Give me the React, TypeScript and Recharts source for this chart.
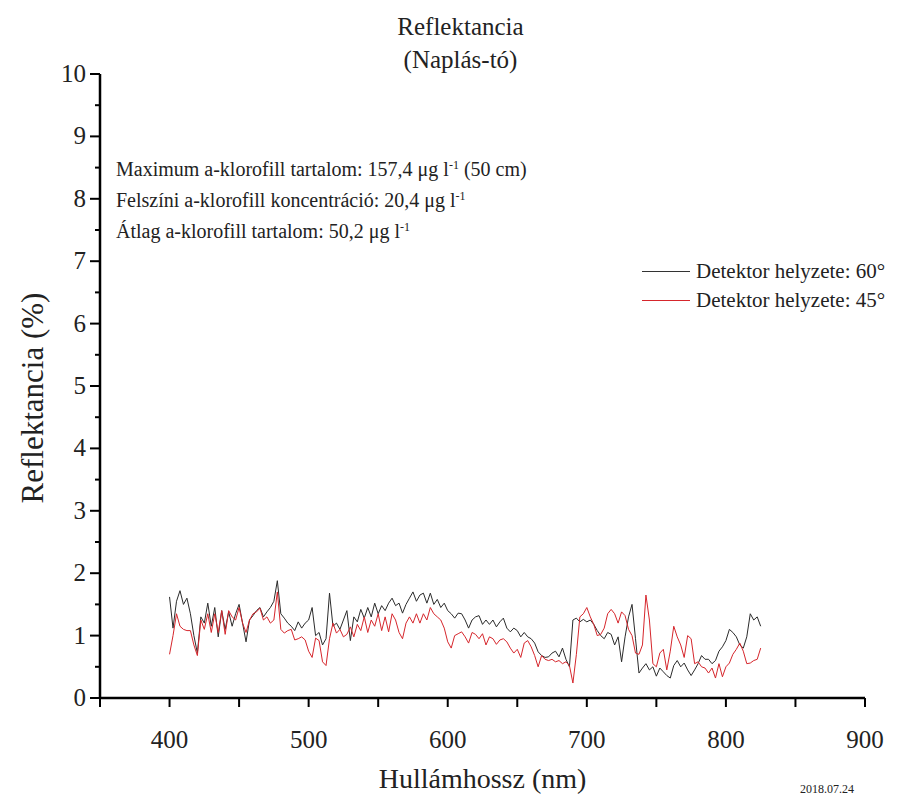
import React from 'react';
import { LineChart, Line, XAxis, YAxis, Label } from 'recharts';

// wavelength grid (nm)
const wavelength = [
  400, 402.5, 405, 407.5, 410, 412.5, 415, 417.5, 420, 422.5,
  425, 427.5, 430, 432.5, 435, 437.5, 440, 442.5, 445, 447.5,
  450, 452.5, 455, 457.5, 460, 462.5, 465, 467.5, 470, 472.5,
  475, 477.5, 480, 482.5, 485, 487.5, 490, 492.5, 495, 497.5,
  500, 502.5, 505, 507.5, 510, 512.5, 515, 517.5, 520, 522.5,
  525, 527.5, 530, 532.5, 535, 537.5, 540, 542.5, 545, 547.5,
  550, 552.5, 555, 557.5, 560, 562.5, 565, 567.5, 570, 572.5,
  575, 577.5, 580, 582.5, 585, 587.5, 590, 592.5, 595, 597.5,
  600, 602.5, 605, 607.5, 610, 612.5, 615, 617.5, 620, 622.5,
  625, 627.5, 630, 632.5, 635, 637.5, 640, 642.5, 645, 647.5,
  650, 652.5, 655, 657.5, 660, 662.5, 665, 667.5, 670, 672.5,
  675, 677.5, 680, 682.5, 685, 687.5, 690, 692.5, 695, 697.5,
  700, 702.5, 705, 707.5, 710, 712.5, 715, 717.5, 720, 722.5,
  725, 727.5, 730, 732.5, 735, 737.5, 740, 742.5, 745, 747.5,
  750, 752.5, 755, 757.5, 760, 762.5, 765, 767.5, 770, 772.5,
  775, 777.5, 780, 782.5, 785, 787.5, 790, 792.5, 795, 797.5,
  800, 802.5, 805, 807.5, 810, 812.5, 815, 817.5, 820, 822.5,
  825,
];

// Detektor helyzete: 60°
const detector60 = [
  1.62, 1.12, 1.55, 1.72, 1.5, 1.6, 1.35, 1.0, 0.72, 1.3,
  1.2, 1.52, 1.15, 1.45, 0.98, 1.4, 1.1, 1.38, 1.15, 1.35,
  1.5, 1.2, 0.9, 1.25, 1.32, 1.4, 1.45, 1.3, 1.38, 1.45,
  1.55, 1.88, 1.35, 1.28, 1.2, 1.15, 1.08, 1.22, 1.12, 1.2,
  1.25, 1.45, 1.0, 1.05, 0.85, 0.95, 1.68, 1.15, 1.2, 1.1,
  1.25, 1.4, 0.92, 1.3, 1.22, 1.42, 1.28, 1.45, 1.3, 1.52,
  1.35, 1.48, 1.4, 1.52, 1.6, 1.48, 1.52, 1.36, 1.5, 1.6,
  1.7, 1.55, 1.65, 1.68, 1.52, 1.68, 1.5, 1.58, 1.45, 1.52,
  1.4, 1.35, 1.28, 1.36, 1.35, 1.25, 1.12, 1.25, 1.3, 1.32,
  1.18, 1.25, 1.18, 1.25, 1.14, 1.22, 1.28, 1.12, 1.06, 1.12,
  1.08, 0.98, 1.05, 0.98, 0.95, 0.88, 0.74, 0.68, 0.65, 0.66,
  0.72, 0.75, 0.66, 0.8, 0.62, 0.5, 1.25, 1.28, 1.22, 1.26,
  1.22, 1.25, 1.18, 1.08, 1.0, 0.95, 1.05, 1.02, 0.85, 0.98,
  0.58, 0.98, 1.3, 1.5, 0.95, 0.4, 0.48, 0.55, 0.45, 0.5,
  0.35, 0.48, 0.42, 0.36, 0.32, 0.52, 0.6, 0.5, 0.56, 0.45,
  0.36, 0.45, 0.55, 0.68, 0.62, 0.62, 0.55, 0.6, 0.75, 0.82,
  0.92, 1.1, 1.05, 0.98, 0.85, 0.8, 0.98, 1.35, 1.25, 1.3,
  1.15,
];

// Detektor helyzete: 45°
const detector45 = [
  0.7, 1.0, 1.35, 1.15, 1.1, 1.08, 1.08, 0.85, 0.68, 1.25,
  1.1, 1.35, 1.05, 1.35, 1.05, 1.4, 1.02, 1.4, 1.3, 1.25,
  1.45, 1.2, 1.05, 1.25, 1.35, 1.38, 1.44, 1.25, 1.3, 1.2,
  1.25, 1.7, 1.1, 1.04, 1.08, 1.1, 0.93, 0.95, 0.98, 0.93,
  0.75, 0.65, 0.96, 0.92, 0.58, 0.52, 0.95, 1.2, 1.04, 1.1,
  0.98, 1.02, 1.14, 0.98, 1.18, 1.08, 1.3, 1.05, 1.25, 1.15,
  1.35, 1.08, 1.3, 1.06, 1.35, 1.25, 1.05, 0.95, 1.2, 1.3,
  1.2, 1.35, 1.2, 1.35, 1.25, 1.45, 1.35, 1.3, 1.25, 1.12,
  0.9, 0.8, 1.0, 1.03, 1.06, 0.98, 0.88, 1.05, 1.02, 0.95,
  1.03, 0.85, 0.98, 0.95, 0.86, 0.93, 0.95, 0.9, 0.8, 0.72,
  0.78, 0.65, 0.88, 0.92, 0.82, 0.68, 0.5, 0.68, 0.62, 0.6,
  0.62, 0.58, 0.6, 0.55, 0.58, 0.52, 0.24, 0.7, 1.3, 1.35,
  1.45, 1.3, 1.18, 1.0, 1.02, 1.12, 1.35, 1.42, 1.35, 1.2,
  1.38, 1.32, 1.1, 1.0, 0.72, 0.7, 0.85, 1.65, 1.25, 0.55,
  0.5, 0.72, 0.78, 0.45, 0.75, 1.15, 0.98, 0.85, 0.65, 1.0,
  0.95, 0.55, 0.58, 0.5, 0.48, 0.4, 0.48, 0.32, 0.55, 0.34,
  0.5, 0.56, 0.7, 0.78, 0.88, 0.75, 0.55, 0.56, 0.6, 0.62,
  0.8,
];

const xTicks = [350, 400, 450, 500, 550, 600, 650, 700, 750, 800, 850, 900];
const yTicks = [0, 0.5, 1, 1.5, 2, 2.5, 3, 3.5, 4, 4.5, 5, 5.5, 6, 6.5, 7, 7.5, 8, 8.5, 9, 9.5, 10];

const data = wavelength.map((w, i) => ({ w, d60: detector60[i], d45: detector45[i] }));

const FONT = '"Liberation Serif", "Times New Roman", serif';

function XTick(props: any) {
  const { x, y, payload } = props;
  const v = payload.value;
  const showLabel = v % 100 === 0 && v >= 400;
  return (
    <g>
      <line x1={x} y1={y} x2={x} y2={y + 9} stroke="#000" strokeWidth={2} />
      {showLabel && (
        <text x={x} y={y + 50} textAnchor="middle" fontSize={25} fontFamily={FONT} fill="#222">
          {v}
        </text>
      )}
    </g>
  );
}

function YTick(props: any) {
  const { x, y, payload } = props;
  const v = payload.value;
  const major = Number.isInteger(v);
  return (
    <g>
      <line x1={x - (major ? 10 : 5)} y1={y} x2={x} y2={y} stroke="#000" strokeWidth={2} />
      {major && (
        <text x={x - 14} y={y + 8} textAnchor="end" fontSize={25} fontFamily={FONT} fill="#222">
          {v}
        </text>
      )}
    </g>
  );
}

const sup = { fontSize: 12, position: 'relative' as const, top: -7 };
const noteRow = { height: 31, lineHeight: '31px', whiteSpace: 'nowrap' as const };

export default function App() {
  return (
    <div style={{ position: 'relative', width: 889, height: 789, fontFamily: FONT, color: '#222', background: '#fff' }}>
      <div style={{ position: 'absolute', left: 8, width: 889, top: 2, textAlign: 'center', fontSize: 25, lineHeight: '33px' }}>
        <div>Reflektancia</div>
        <div>(Naplás-tó)</div>
      </div>

      <div style={{ position: 'absolute', left: 108, top: 146, fontSize: 20 }}>
        <div style={noteRow}>Maximum a-klorofill tartalom: 157,4 μg l<span style={sup}>-1</span> (50 cm)</div>
        <div style={noteRow}>Felszíni a-klorofill koncentráció: 20,4 μg l<span style={sup}>-1</span></div>
        <div style={noteRow}>Átlag a-klorofill tartalom: 50,2 μg l<span style={sup}>-1</span></div>
      </div>

      <div style={{ position: 'absolute', left: 634, top: 249, fontSize: 21, lineHeight: '29px', whiteSpace: 'nowrap' }}>
        <div style={{ display: 'flex', alignItems: 'center' }}>
          <span style={{ display: 'inline-block', width: 48, height: 1, background: '#333', marginRight: 6 }} />
          Detektor helyzete: 60°
        </div>
        <div style={{ display: 'flex', alignItems: 'center' }}>
          <span style={{ display: 'inline-block', width: 48, height: 1, background: '#d6262c', marginRight: 6 }} />
          Detektor helyzete: 45°
        </div>
      </div>

      <div
        style={{
          position: 'absolute',
          left: 25,
          top: 390,
          fontSize: 31,
          whiteSpace: 'nowrap',
          transform: 'translate(-50%, -50%) rotate(-90deg)',
        }}
      >
        Reflektancia (%)
      </div>

      <div style={{ position: 'absolute', left: 792, top: 774, fontSize: 12 }}>2018.07.24</div>

      <LineChart width={889} height={789} data={data} margin={{ top: 66, right: 32, bottom: 0, left: 0 }}>
        <XAxis
          type="number"
          dataKey="w"
          domain={[350, 900]}
          ticks={xTicks}
          interval={0}
          height={99}
          tickSize={0}
          tickMargin={0}
          tickLine={false}
          tick={<XTick />}
          axisLine={{ stroke: '#000', strokeWidth: 2.5 }}
          allowDataOverflow
        >
          <Label value="Hullámhossz (nm)" position="insideBottom" offset={9} fontSize={28} fontFamily={FONT} fill="#222" />
        </XAxis>
        <YAxis
          type="number"
          domain={[0, 10]}
          ticks={yTicks}
          interval={0}
          width={92}
          tickSize={0}
          tickMargin={0}
          tickLine={false}
          tick={<YTick />}
          axisLine={{ stroke: '#000', strokeWidth: 2.5 }}
        />
        <Line type="linear" dataKey="d60" stroke="#2b2b2b" strokeWidth={1} dot={false} isAnimationActive={false} />
        <Line type="linear" dataKey="d45" stroke="#d6262c" strokeWidth={1} dot={false} isAnimationActive={false} />
      </LineChart>
    </div>
  );
}
